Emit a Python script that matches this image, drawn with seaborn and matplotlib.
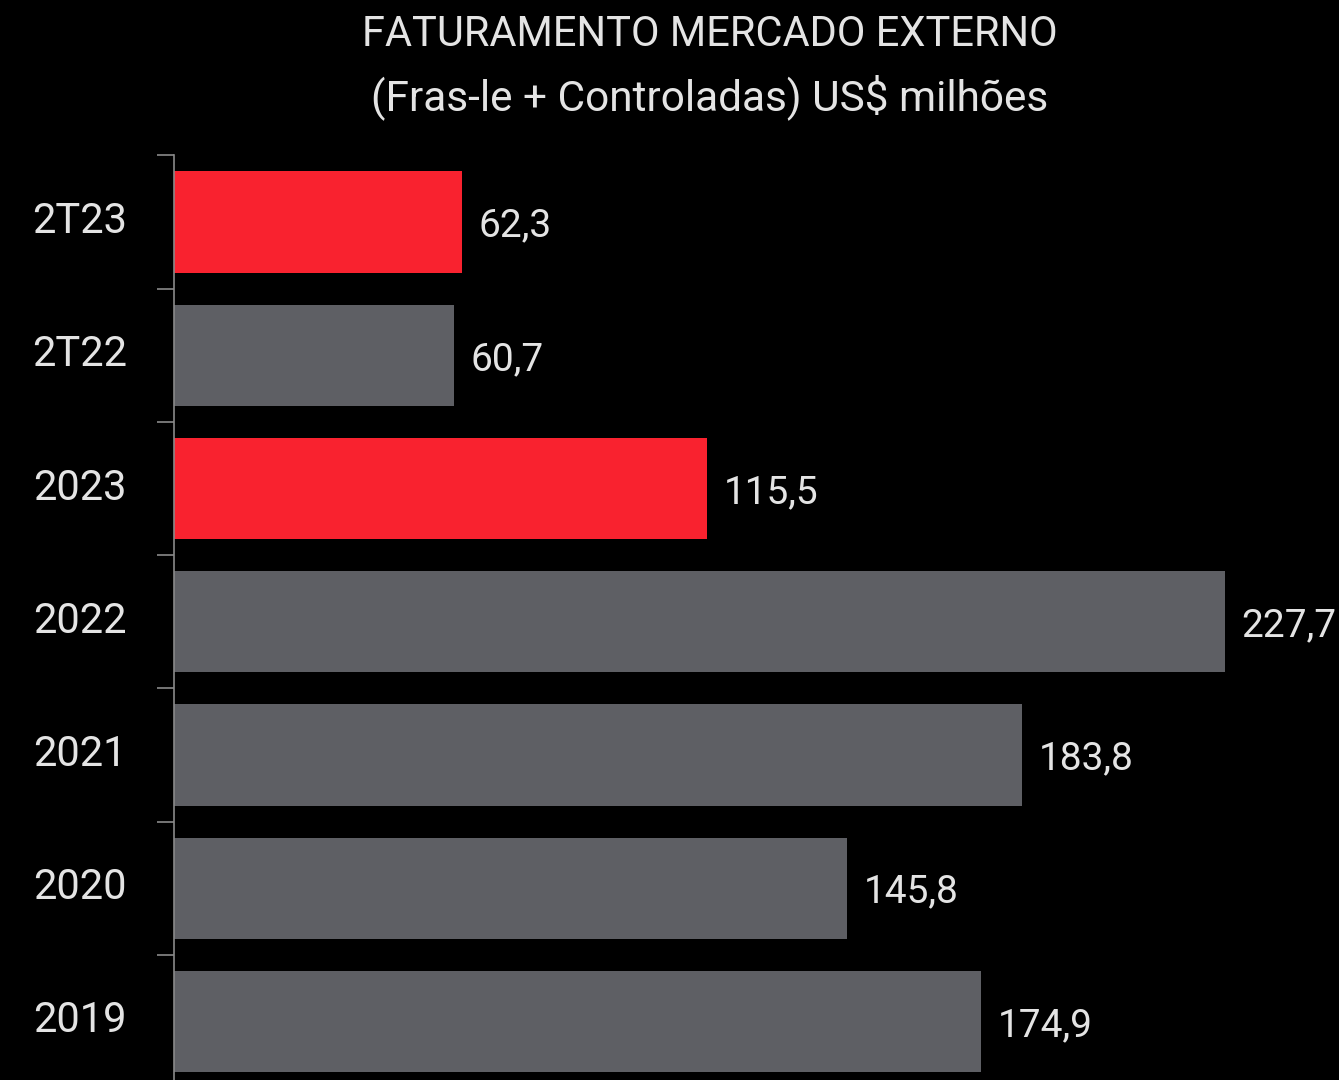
import matplotlib
matplotlib.use("Agg")
import matplotlib.pyplot as plt
import matplotlib.transforms as mtransforms
import seaborn as sns
import pandas as pd
import numpy as np

categories = ["2T23", "2T22", "2023", "2022", "2021", "2020", "2019"]
values = [62.3, 60.7, 115.5, 227.7, 183.8, 145.8, 174.9]
labels = ["62,3", "60,7", "115,5", "227,7", "183,8", "145,8", "174,9"]
highlight = ["sim", "nao", "sim", "nao", "nao", "nao", "nao"]

title_lines = ["FATURAMENTO MERCADO EXTERNO", "(Fras-le + Controladas) US$ milhões"]

RED = "#F9222F"
GRAY = "#5E5F64"
TXT = "#E4E4E4"

sns.set_theme(style="white")
plt.rcParams["font.family"] = ["Roboto", "DejaVu Sans"]

df = pd.DataFrame({"cat": categories, "val": values, "hl": highlight})

fig = plt.figure(figsize=(13.39, 10.8), dpi=100, facecolor="black")
W, H = 1339, 1080
ax_left, ax_right = 174, 1339
ax_top, ax_bot = 155.5, 1088
ax = fig.add_axes([ax_left / W, 1 - ax_bot / H, (ax_right - ax_left) / W, (ax_bot - ax_top) / H])
ax.set_facecolor("black")

sns.barplot(data=df, y="cat", x="val", hue="hl", palette={"sim": RED, "nao": GRAY},
            order=categories, hue_order=["sim", "nao"], dodge=False, legend=False,
            width=0.76, saturation=1, ax=ax, orient="h", edgecolor="none", linewidth=0)

ax.set_xlim(0, 1165 / (1051 / 227.7))
ax.set_ylim(len(categories) - 0.5, -0.5)

for i, (v, lab) in enumerate(zip(values, labels)):
    ax.text(v + 3.6, i + 0.03, lab, va="center", ha="left", color=TXT, fontsize=28)

ax.set_xlabel("")
ax.set_ylabel("")
ax.set_xticks([])
ax.set_yticks(range(len(categories)))
ax.set_yticklabels(categories, color=TXT, fontsize=30)
ax.tick_params(axis="y", which="major", left=True, length=0, pad=34)
ax.set_yticks(np.arange(-0.5, len(categories), 1), minor=True)
ax.tick_params(axis="y", which="minor", left=True, length=12, width=1.2, color="#8a8a8a")

shift = mtransforms.ScaledTranslation(0, 5 / 100, fig.dpi_scale_trans)
for lbl in ax.get_yticklabels():
    lbl.set_transform(lbl.get_transform() + shift)

for s in ["top", "right", "bottom"]:
    ax.spines[s].set_visible(False)
ax.spines["left"].set_color("#8a8a8a")
ax.spines["left"].set_linewidth(1.2)

fig.text(710 / W, 1 - 34 / H, title_lines[0], ha="center", va="center", color=TXT, fontsize=30)
fig.text(710 / W, 1 - 97 / H, title_lines[1], ha="center", va="center", color=TXT, fontsize=30.5)

fig.savefig("out.png", dpi=100, facecolor="black")
